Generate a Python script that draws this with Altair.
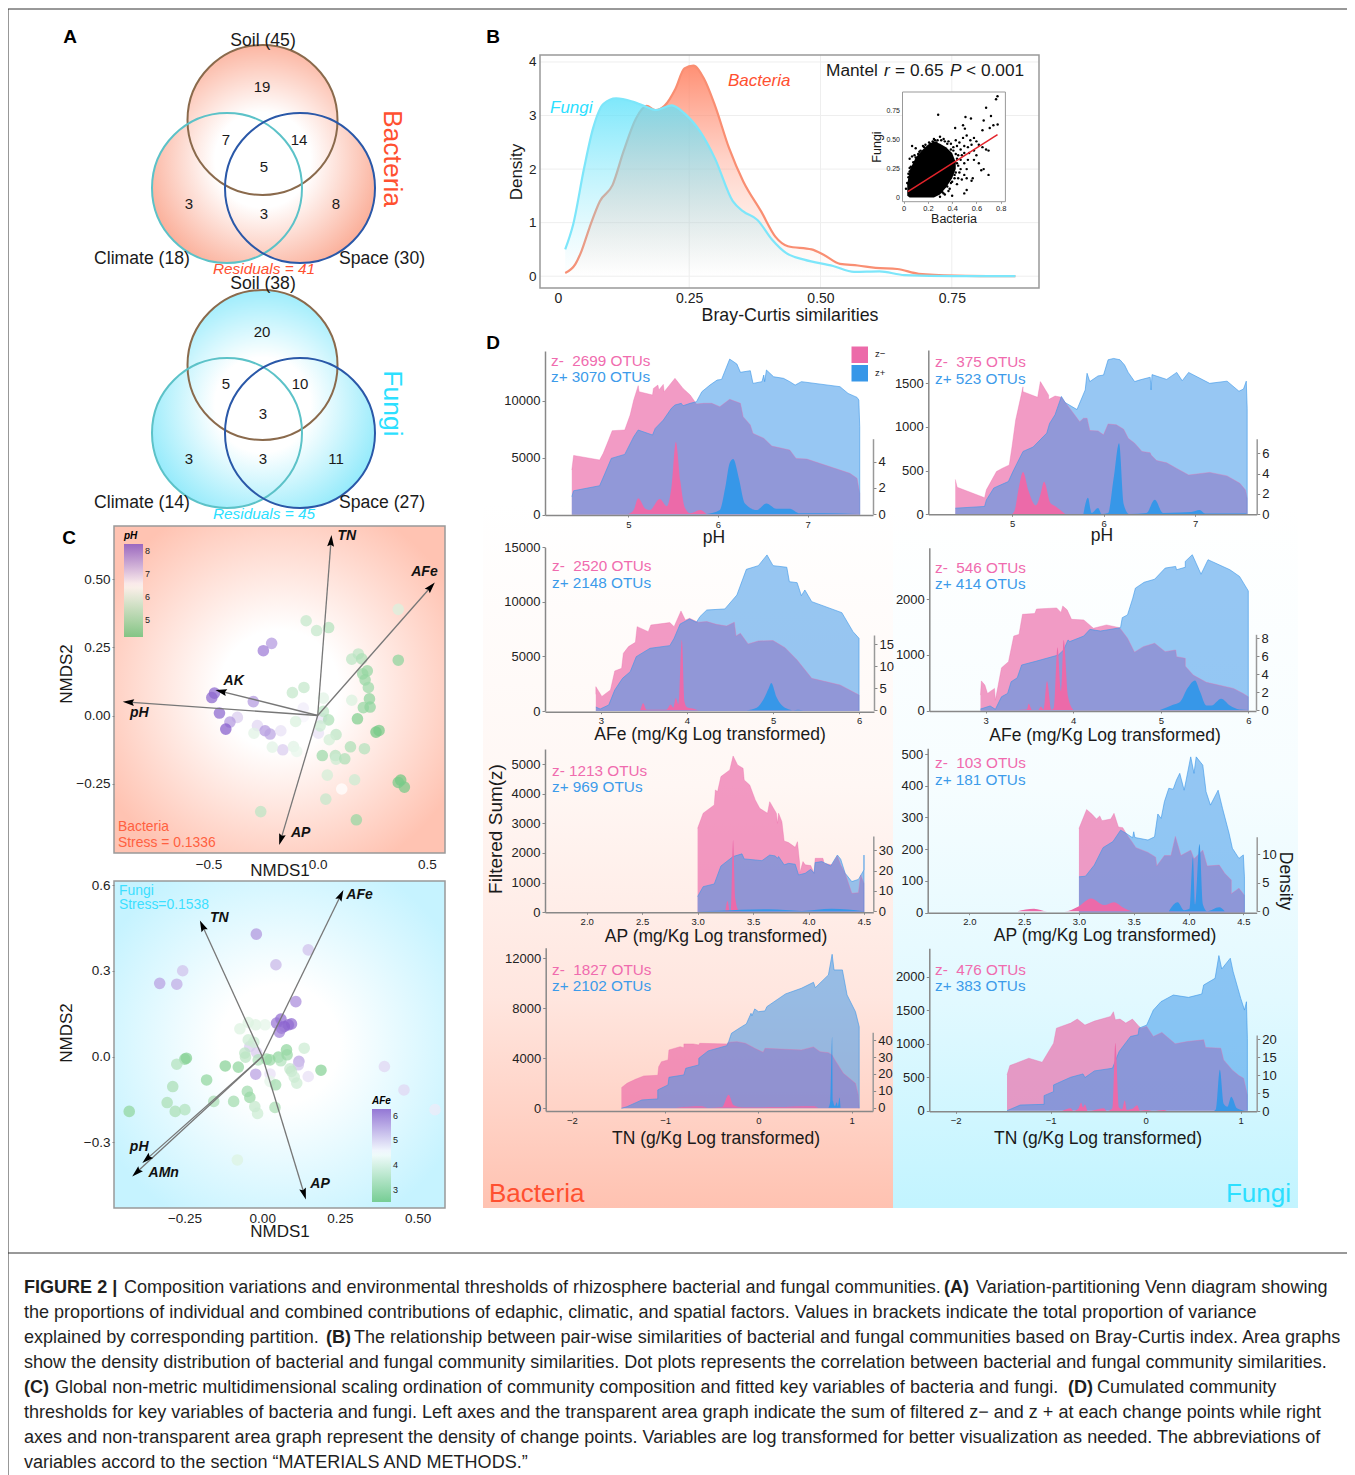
import math
import altair as alt
import pandas as pd

W, H = 1339, 1467
FONT = "Liberation Sans"
ONE = pd.DataFrame({"a": [0]})
PINK, BLUE = "#EC6AA9", "#3B96E8"
DPINK, DBLUE = "#EC6AA9", "#3797E8"
RED, CYAN = "#FF5030", "#2CDFFF"

# ---------- Panel B ----------
b_bacteria = [(.014,.06),(.033,.22),(.045,.47),(.06,.90),(.08,1.4),(.104,1.7),(.125,2.33),(.149,2.95),(.169,3.18),(.186,3.10),(.203,3.18),(.224,3.5),(.241,3.88),(.258,3.93),(.278,3.69),(.299,3.19),(.326,2.39),(.353,1.77),(.387,1.21),(.414,.74),(.438,.56),(.483,.50),(.506,.40),(.537,.23),(.571,.20),(.605,.155),(.646,.135),(.687,.045),(.755,.012),(.871,0)]
b_fungi = [(.014,.50),(.029,.96),(.05,2.02),(.067,2.76),(.087,3.22),(.111,3.32),(.142,3.26),(.169,3.16),(.186,3.10),(.217,3.19),(.241,3.04),(.271,2.70),(.299,2.2),(.333,1.40),(.353,1.21),(.38,1.05),(.408,.68),(.435,.43),(.469,.31),(.524,.19),(.564,.08),(.612,.09),(.66,.02),(.755,0),(.871,0)]
inset_core = [(.03,.02,.12),(.05,.005,.24),(.1,.005,.35),(.15,.005,.41),(.2,.005,.46),(.25,.005,.49),(.3,.03,.47),(.35,.09,.44),(.4,.17,.39),(.43,.25,.31)]
inset_points = [(.774,.88),(.762,.855),(.68,.78),(.72,.71),(.285,.72),(.51,.70),(.555,.687),(.66,.67),(.775,.635),(.74,.63),(.71,.606),(.65,.586),(.425,.606),(.49,.63),(.505,.6),
 (.03,.13),(.02,.08),(.04,.18),(.05,.23),(.06,.27),(.08,.31),(.07,.36),(.07,.45),(.1,.43),(.05,.34),(.12,.38),(.1,.35),(.14,.41),(.16,.45),(.18,.46),(.16,.39),(.19,.43),(.22,.47),(.24,.49),(.26,.5),(.28,.5),(.3,.53),(.33,.51),(.37,.49),(.39,.47),(.43,.5),(.46,.48),(.49,.52),(.52,.54),(.55,.5),(.58,.52),(.6,.49),(.62,.46),(.65,.44),(.68,.42),(.7,.41),(.56,.46),(.53,.44),(.5,.45),(.47,.42),(.44,.45),(.41,.41),(.45,.37),(.48,.37),(.5,.39),(.54,.39),(.58,.41),(.6,.37),(.47,.33),(.44,.3),(.5,.3),(.53,.33),(.58,.33),(.62,.3),(.64,.24),(.66,.25),(.7,.2),(.52,.25),(.5,.2),(.48,.16),(.52,.17),(.57,.17),(.56,.15),(.46,.22),(.42,.2),(.44,.12),(.4,.14),(.38,.08),(.36,.1),(.4,.02),(.5,.04),(.52,.07),(.45,.17),(.33,.04),(.3,.01),
 (.36,.47),(.34,.49),(.31,.5),(.41,.44),(.39,.42),(.43,.38),(.44,.34),(.45,.28),(.47,.25),(.43,.22),(.42,.17),(.39,.13),(.37,.06),(.34,.03),(.32,.05),(.05,.26),(.04,.21),(.09,.37),(.13,.4),(.17,.44),(.21,.48),(.25,.51),(.27,.48)]
inset_fit = [(.035,.055),(.774,.549)]
inset_y_ticks = [(0,"0"),(.25,"0.25"),(.5,"0.50"),(.75,"0.75")]

# ---------- Panel C ----------
c1_purple = [(-.211,.265,7.5),(-.249,.238,7.8),(-.473,.082,8),(-.485,.066,8),(-.295,.051,7.5),(-.450,.009,8),(-.368,-.007,7),(-.402,-.024,7.5),(-.421,-.050,8.1),(-.276,-.037,6.9),(-.241,-.056,7.5),(-.218,-.068,7.4),(-.169,-.056,6.8),(-.160,-.126,7),(.003,-.065,6.8),(.018,-.010,6.8),(-.066,.027,6.7),(-.066,-.004,6.6)]
c1_green = [(-.053,.348,5.7),(-.005,.312,5.7),(.050,.323,5.5),(.369,.390,6),(.369,.203,5),(.186,.226,5.6),(.156,.207,5.6),(.202,.208,5.4),(.227,.164,5.1),(.206,.153,5.1),(.217,.131,5.1),(.232,.103,5.2),(.237,.061,5),(.209,.029,5.1),(.240,.031,5),(.156,.056,6),(.182,-.012,4.8),(.267,-.061,4.6),(.281,-.055,4.7),(-.063,.103,5.7),(-.116,.084,5.7),(.026,.064,6.1),(.026,.015,5.6),(.050,-.016,5.4),(.011,-.038,5.8),(-.101,-.022,6),(.084,-.070,5.6),(.053,-.089,5.9),(-.292,-.065,6.1),(-.208,-.116,6.1),(-.111,-.114,6.1),(-.096,-.132,6.2),(.150,-.115,5.4),(.214,-.122,5.5),(.021,-.147,5.2),(.081,-.147,5.5),(.084,-.160,5.8),(.124,-.159,5.4),(.044,-.219,5.9),(.169,-.236,5.8),(.110,-.270,6.5),(.037,-.307,5.7),(-.261,-.353,5.6),(.177,-.383,5.1),(.380,-.237,4.6),(.369,-.246,4.7),(.397,-.263,4.7)]
c1_arrows = [("TN",.061,.642,.133,.659),("AFe",.519,.473,.489,.526),("AK",-.443,.089,-.385,.127),("pH",-.867,.049,-.817,.011),("AP",-.169,-.456,-.078,-.432)]
c2_purple = [(-.019,.428,5.5),(.148,.373,5.1),(.044,.321,5.2),(-.256,.300,5.1),(-.330,.256,5.4),(-.275,.253,5.3),(.108,.192,5.6),(.060,.131,5.9),(.046,.117,5.8),(.094,.114,5.9),(.084,.111,5.9),(.071,.105,6),(.062,.099,5.9),(.055,.085,5.7),(-.040,.035,5),(-.018,.014,5),(.118,-.017,5.4),(.116,-.029,5.1),(-.021,-.062,5.4),(.025,-.061,4.8),(.148,-.070,4.8),(.393,-.035,4.9),(.456,-.117,4.9),(.556,-.186,4.7)]
c2_green = [(-.045,.119,4.1),(-.072,.097,4.1),(-.021,.111,4.1),(.009,.111,4.2),(-.045,.058,3.9),(-.027,.050,3.9),(-.056,.012,3.7),(-.054,-.002,3.7),(-.013,-.012,3.6),(.014,-.009,3.3),(.025,-.012,3.3),(.052,-.002,3.2),(.060,-.015,3.6),(.078,.023,3.2),(.080,.006,3.3),(.135,.029,3.9),(.189,-.048,3.1),(.089,-.043,3.8),(.094,-.052,3.8),(.103,-.072,3.9),(.111,-.093,3.9),(.025,-.087,4.2),(.043,-.099,3.4),(-.119,-.033,3.1),(-.077,-.037,3.2),(-.179,-.082,3.2),(-.249,-.009,3.2),(-.244,-.006,3.1),(-.275,-.027,3.6),(-.288,-.105,3.5),(-.306,-.161,3.5),(-.280,-.192,3.5),(-.249,-.186,3.6),(-.428,-.192,3.2),(-.156,-.157,3.5),(-.092,-.157,3.4),(-.048,-.122,3.4),(-.040,-.143,3.3),(-.024,-.175,3.8),(-.015,-.199,3.9),(.041,-.178,3.5),(-.080,-.362,4.1)]
c2_arrows = [("TN",-.193,.458,-.138,.484),("AFe",.253,.565,.313,.565),("pH",-.372,-.359,-.396,-.317),("AMn",-.405,-.406,-.317,-.408),("AP",.135,-.481,.186,-.446)]

# ---------- Panel A ----------
venn_circles = [("Soil",49,64),("Climate",34.8,36.8),("Space",64,36.8)]
venn_b_text = [("19",48.8,77.2),("7",34.4,56),("14",63.6,56),("5",49.6,45.2),("3",19.6,30.4),("3",49.6,26.4),("8",78.4,30.4),("Soil (45)",49.2,95.6),("Climate (18)",.8,8.4),("Space (30)",96.8,8.4)]
venn_f_text = [("20",48.8,77.2),("5",34.4,56.4),("10",64,56.4),("3",49.2,44.4),("3",19.6,26.4),("3",49.2,26.4),("11",78.4,26.4),("Soil (38)",49.2,96.4),("Climate (14)",.8,8.8),("Space (27)",96.8,8.8)]

# ---------- Panel D ----------
ph_b_neg = [(4.37,3920),(4.39,5200),(4.68,4800),(4.72,5380),(4.78,6550),(4.82,7370),(4.96,7430),(5.02,8740),(5.06,10060),(5.11,11320),(5.12,10790),(5.27,10500),(5.28,11080),(5.33,11370),(5.34,10940),(5.39,11430),(5.40,10790),(5.52,11960),(5.61,11080),(5.69,10500),(5.76,9710),(5.84,9770),(5.93,9770),(6.02,9470),(6.13,10120),(6.25,9770),(6.28,8600),(6.36,7870),(6.39,7130),(6.51,6700),(6.60,6020),(6.80,5670),(6.87,4940),(6.99,4880),(7.47,3630),(7.55,3190),(7.58,1870),(7.58,0)]
ph_b_pos = [(4.37,1580),(4.39,2100),(4.68,2540),(4.74,3630),(4.81,4940),(4.96,5290),(5.06,6840),(5.11,7430),(5.27,6990),(5.30,7570),(5.39,8300),(5.48,9330),(5.52,9620),(5.59,9770),(5.61,9560),(5.69,9770),(5.76,9910),(5.82,10790),(5.91,11370),(5.99,11810),(6.04,11870),(6.13,13650),(6.21,13220),(6.25,12490),(6.36,12630),(6.39,11520),(6.49,11670),(6.51,12250),(6.52,11670),(6.54,12690),(6.62,12100),(6.73,11960),(6.80,11670),(6.86,11370),(6.93,11670),(7.36,11230),(7.45,10640),(7.55,10290),(7.57,10060),(7.58,7720),(7.58,0)]
ph_b_dneg = [(5.0,0),(5.06,.3),(5.11,1.2),(5.19,.4),(5.24,.3),(5.35,1.15),(5.43,.6),(5.48,2),(5.53,5.5),(5.58,2.5),(5.63,.5),(5.69,.05),(5.80,.3),(5.87,0)]
ph_b_dpos = [(5.87,0),(6.02,.3),(6.08,2),(6.13,3.9),(6.17,4.2),(6.23,2.8),(6.30,.8),(6.43,.3),(6.54,.8),(6.65,.4),(6.80,.4),(6.91,.05),(7.17,.05),(7.55,0)]

ph_f_neg = [(4.38,400),(4.40,310),(4.70,190),(4.72,280),(4.83,490),(4.89,525),(4.97,565),(5.00,775),(5.04,1080),(5.12,1460),(5.12,1405),(5.28,1340),(5.31,1520),(5.40,1365),(5.40,1315),(5.47,1355),(5.54,1340),(5.63,1215),(5.74,1060),(5.78,1100),(5.82,1100),(5.85,960),(5.94,955),(6.00,910),(6.05,1035),(6.14,1025),(6.22,975),(6.27,870),(6.34,815),(6.42,720),(6.51,705),(6.52,680),(6.58,615),(6.69,590),(6.80,525),(6.93,450),(7.16,480),(7.35,440),(7.49,355),(7.55,280),(7.57,185),(7.57,0)]
ph_f_pos = [(4.38,70),(4.70,90),(4.72,165),(4.80,300),(4.83,315),(4.96,375),(5.01,490),(5.12,720),(5.23,770),(5.38,930),(5.41,1040),(5.47,1140),(5.54,1350),(5.58,1280),(5.71,1200),(5.80,1425),(5.82,1615),(5.85,1520),(5.94,1585),(6.00,1595),(6.05,1770),(6.11,1785),(6.18,1770),(6.23,1710),(6.27,1625),(6.34,1520),(6.40,1540),(6.51,1570),(6.52,1425),(6.53,1600),(6.69,1545),(6.80,1625),(6.86,1530),(6.93,1625),(7.16,1500),(7.35,1525),(7.48,1410),(7.53,1435),(7.56,1525),(7.57,1215),(7.57,0)]
ph_f_dneg = [(5.0,0),(5.03,.4),(5.07,2.4),(5.12,4.15),(5.18,2.3),(5.26,.85),(5.31,1.9),(5.35,3.2),(5.42,1.1),(5.47,.8),(5.58,0)]
ph_f_dpos = [(5.78,0),(5.83,1.6),(5.87,.1),(5.94,.6),(5.98,0),(6.05,.1),(6.11,3.5),(6.17,7.0),(6.22,1),(6.28,0),(6.47,.1),(6.56,1.4),(6.65,.1),(6.84,.15),(6.96,.2),(7.05,.4),(7.11,.05),(7.56,.05)]

afe_b_neg = [(2.94,1530),(2.94,2230),(3.01,1340),(3.11,1925),(3.16,3670),(3.24,3910),(3.26,5285),(3.32,5900),(3.40,6290),(3.42,7730),(3.55,7270),(3.58,7880),(3.80,8100),(3.85,7730),(3.93,9165),(3.98,8340),(4.03,8490),(4.13,8130),(4.23,8190),(4.34,7940),(4.46,7790),(4.55,8130),(4.57,6870),(4.62,7120),(4.71,6140),(4.83,6415),(5.00,6450),(5.14,5800),(5.28,4675),(5.45,2990),(5.78,2380),(6.00,1465),(6.00,0)]
afe_b_pos = [(2.94,365),(2.99,180),(3.09,550),(3.16,1925),(3.25,2990),(3.34,3605),(3.41,4980),(3.57,5745),(3.80,5990),(3.85,6660),(3.92,7970),(4.03,8430),(4.11,8130),(4.15,8645),(4.23,9255),(4.44,9350),(4.58,10630),(4.69,12980),(4.83,13320),(4.93,14300),(5.00,13320),(5.16,13170),(5.19,11850),(5.28,11760),(5.33,10570),(5.37,11090),(5.45,10020),(5.80,9010),(5.93,7270),(6.00,6660),(6.00,0)]
afe_b_dneg = [(3.22,0),(3.45,0),(3.49,1.6),(3.53,.1),(3.76,.1),(3.81,1.3),(3.84,.6),(3.87,2.8),(3.90,1.4),(3.94,16),(3.97,2),(4.0,.7),(4.09,.3),(4.13,0)]
afe_b_dpos = [(4.69,0),(4.81,.6),(4.89,2.5),(4.95,5),(4.98,6.2),(5.04,3),(5.10,1.2),(5.16,.4),(5.24,0),(5.29,.15),(5.35,0)]

afe_f_neg = [(2.94,280),(2.95,535),(2.99,460),(3.02,310),(3.10,400),(3.11,190),(3.18,770),(3.26,880),(3.32,1340),(3.38,1370),(3.42,1730),(3.56,1745),(3.58,1825),(3.81,1845),(3.86,1765),(3.88,1880),(3.93,1810),(3.98,1640),(4.12,1630),(4.23,1480),(4.38,1540),(4.53,1490),(4.62,1300),(4.70,1050),(4.80,1150),(4.93,1210),(5.05,1060),(5.17,1090),(5.18,970),(5.28,940),(5.28,800),(5.37,640),(5.52,510),(5.83,400),(5.94,310),(6.00,250),(6.00,0)]
afe_f_pos = [(2.94,30),(3.05,85),(3.11,25),(3.18,250),(3.25,310),(3.29,520),(3.36,590),(3.41,820),(3.58,890),(3.83,1000),(3.89,1090),(3.94,1270),(3.96,1240),(4.12,1340),(4.19,1460),(4.31,1430),(4.54,1490),(4.56,1670),(4.62,1720),(4.68,2020),(4.71,2200),(4.81,2305),(4.93,2360),(5.05,2560),(5.17,2590),(5.18,2530),(5.28,2575),(5.28,2680),(5.36,2800),(5.46,2450),(5.54,2710),(5.79,2530),(5.90,2410),(6.00,2150),(6.00,0)]
afe_f_dneg = [(3.37,0),(3.47,.05),(3.49,.7),(3.53,0),(3.60,0),(3.63,.4),(3.66,.05),(3.70,3.2),(3.75,0),(3.78,.3),(3.82,7.0),(3.86,2.1),(3.89,7.8),(3.94,1.5),(4.0,0)]
afe_f_dpos = [(4.99,0),(5.14,.6),(5.22,.9),(5.31,2.5),(5.39,3.3),(5.45,2),(5.52,.5),(5.58,.5),(5.69,1.25),(5.79,.5),(5.90,.05),(6,0)]

ap_b_neg = [(3.0,2830),(3.05,3340),(3.15,3620),(3.16,4125),(3.18,4070),(3.21,4575),(3.29,4800),(3.32,5270),(3.36,4970),(3.41,4855),(3.42,4460),(3.47,4290),(3.52,3790),(3.56,3505),(3.63,3340),(3.65,3730),(3.71,3340),(3.72,3000),(3.73,3340),(3.76,3055),(3.78,2405),(3.82,2350),(3.88,2190),(3.90,2380),(3.92,1650),(3.92,1315),(3.95,1710),(3.97,1600),(4.02,1575),(4.05,1315),(4.06,1820),(4.13,1820),(4.14,1650),(4.21,1600),(4.26,1900),(4.29,1600),(4.33,1315),(4.39,640),(4.45,660),(4.47,1260),(4.50,980),(4.50,0)]
ap_b_pos = [(3.0,530),(3.05,865),(3.15,955),(3.21,1560),(3.32,1880),(3.40,1970),(3.42,1800),(3.52,1765),(3.58,1740),(3.65,1930),(3.70,1900),(3.72,1820),(3.73,1880),(3.78,1600),(3.82,1650),(3.88,1620),(3.91,1260),(3.97,1315),(4.02,1450),(4.05,1315),(4.06,1675),(4.12,1710),(4.20,1560),(4.26,1930),(4.29,1790),(4.33,1315),(4.39,1035),(4.45,1110),(4.50,1430),(4.50,1930),(4.50,0)]
ap_b_dneg = [(3.25,0),(3.27,5),(3.29,0),(3.30,0),(3.32,35),(3.34,6),(3.37,.5),(3.40,0)]
ap_b_dpos = [(3.0,0),(3.19,.3),(3.64,1),(3.94,.2),(4.21,1.2),(4.5,0)]

ap_f_neg = [(3.0,265),(3.07,325),(3.12,310),(3.16,295),(3.19,305),(3.21,290),(3.29,295),(3.32,313),(3.36,270),(3.40,268),(3.43,250),(3.52,205),(3.63,190),(3.70,175),(3.71,147),(3.78,180),(3.84,180),(3.88,240),(3.93,180),(4.02,197),(4.05,170),(4.13,197),(4.17,147),(4.28,150),(4.33,124),(4.39,103),(4.39,60),(4.46,77),(4.51,55),(4.51,0)]
ap_f_pos = [(3.0,113),(3.06,115),(3.14,150),(3.22,205),(3.31,224),(3.38,260),(3.43,250),(3.49,236),(3.50,255),(3.51,237),(3.63,229),(3.69,239),(3.72,311),(3.75,297),(3.78,350),(3.82,392),(3.86,389),(3.89,418),(3.92,439),(3.96,386),(4.02,491),(4.05,439),(4.07,491),(4.13,465),(4.16,381),(4.20,339),(4.27,386),(4.31,329),(4.37,250),(4.40,203),(4.46,171),(4.50,182),(4.51,113),(4.51,0)]
ap_f_dneg = [(2.44,0),(2.59,.45),(2.71,0),(2.87,0),(3.0,.9),(3.11,2.25),(3.23,1.1),(3.32,1.6),(3.41,.6),(3.50,0),(3.81,0),(3.87,.2)]
ap_f_dpos = [(3.82,0),(3.90,1.6),(3.96,.2),(4.01,.5),(4.04,9.5),(4.06,1.2),(4.10,11.8),(4.13,1.3),(4.17,0),(4.28,.7),(4.33,0)]

tn_b_neg = [(-1.47,1650),(-1.41,2000),(-1.32,2320),(-1.23,2590),(-1.08,2640),(-1.07,3330),(-1.04,3730),(-.97,3870),(-.96,4670),(-.84,4930),(-.80,4850),(-.80,5150),(-.70,5150),(-.64,5070),(-.63,5200),(-.34,5150),(-.32,5280),(-.23,5330),(-.14,5200),(-.07,4930),(-.04,4800),(.05,4480),(.07,4800),(.29,4720),(.46,4670),(.59,4910),(.66,4530),(.75,4450),(.79,4270),(.82,3870),(.91,2800),(1.04,2000),(1.07,1070),(1.08,0)]
tn_b_pos = [(-1.47,0),(-1.41,130),(-1.25,670),(-1.08,750),(-1.08,1470),(-.97,1870),(-.96,2480),(-.80,2670),(-.78,3200),(-.64,3470),(-.64,4000),(-.54,4590),(-.34,5010),(-.32,5330),(-.29,6000),(-.18,6530),(-.13,6750),(-.08,7600),(-.07,7390),(-.04,7950),(0,7730),(.07,7790),(.09,8130),(.29,9150),(.46,9600),(.59,10080),(.61,9650),(.75,10670),(.79,12320),(.81,11070),(.90,11070),(.95,9070),(1.04,7730),(1.08,6530),(1.08,5600),(1.08,0)]
tn_b_dneg = [(-.89,0),(-.61,.8),(-.54,0),(-.39,.3),(-.32,7.6),(-.27,1.5),(-.18,.2),(.18,.3),(.59,.8),(.64,0)]
tn_b_dpos = [(.75,0),(.77,4),(.79,42),(.80,4),(.82,1),(.84,3.2),(.85,.8),(.87,6),(.88,0)]

tn_f_neg = [(-1.46,535),(-1.43,675),(-1.23,785),(-1.09,725),(-.97,1010),(-.94,1235),(-.79,1310),(-.72,1370),(-.64,1280),(-.54,1340),(-.37,1410),(-.34,1480),(-.32,1360),(-.27,1370),(-.21,1310),(-.14,1370),(-.07,1260),(-.05,1235),(.01,1260),(.08,1110),(.17,1170),(.31,1000),(.44,1035),(.61,1060),(.63,945),(.79,935),(.82,760),(.91,610),(.98,525),(1.03,485),(1.07,235),(1.07,0)]
tn_f_pos = [(-1.46,0),(-1.32,85),(-1.07,95),(-1.07,225),(-.97,285),(-.97,385),(-.79,500),(-.66,550),(-.64,495),(-.54,595),(-.35,635),(-.28,885),(-.16,1110),(-.08,1135),(-.07,1235),(.01,1280),(.08,1505),(.16,1630),(.29,1730),(.45,1695),(.59,1745),(.61,1880),(.73,1980),(.77,2320),(.80,2120),(.89,2280),(.92,2080),(1.0,1680),(1.04,1505),(1.06,1630),(1.07,1080),(1.07,0)]
tn_f_dneg = [(-.88,0),(-.79,.8),(-.76,0),(-.71,.6),(-.68,2.3),(-.66,1),(-.64,1.8),(-.61,0),(-.44,.8),(-.41,0),(-.35,.8),(-.32,19),(-.28,1),(-.25,.5),(-.22,2.9),(-.20,.3),(-.14,.6),(-.09,1.6),(-.06,.1),(.01,.3),(.08,0),(.19,.3),(.22,0)]
tn_f_dpos = [(.72,0),(.74,.6),(.78,11.5),(.82,2),(.86,1.2),(.90,4),(.96,.8),(1.07,0)]

x5 = [5,6,7]; x3 = [3,4,5,6]; x2 = [2,2.5,3,3.5,4,4.5]; xm = [-2,-1,0,1]
PANELS = [
 dict(s=(ph_b_neg,ph_b_pos,ph_b_dneg,ph_b_dpos),xd=(4.071,7.728),xr=(545,873),yd=(0,14360),yr=(514.7,351),rd=(0,5.76),rr=(514,438.7),ax=515,xt=x5,yt=[0,5000,10000],rt=[0,2,4],xf=".0f"),
 dict(s=(ph_f_neg,ph_f_pos,ph_f_dneg,ph_f_dpos),xd=(4.085,7.674),xr=(928.3,1256.7),yd=(0,1882),yr=(514.3,350),rd=(0,7.45),rr=(514,438.7),ax=514.3,xt=x5,yt=[0,500,1000,1500],rt=[0,2,4,6],xf=".0f"),
 dict(s=(afe_b_neg,afe_b_pos,afe_b_dneg,afe_b_dpos),xd=(2.349,6.174),xr=(545,874),yd=(0,15000),yr=(711,547.3),rd=(0,17.1),rr=(710.3,635),ax=711.7,xt=x3,yt=[0,5000,10000,15000],rt=[0,5,10,15],xf=".0f"),
 dict(s=(afe_f_neg,afe_f_pos,afe_f_dneg,afe_f_dpos),xd=(2.355,6.088),xr=(929.3,1256),yd=(0,2926),yr=(710.7,547.7),rd=(0,8.45),rr=(710,634.3),ax=711,xt=x3,yt=[0,1000,2000],rt=[0,2,4,6,8],xf=".0f"),
 dict(s=(ap_b_neg,ap_b_pos,ap_b_dneg,ap_b_dpos),xd=(1.624,4.584),xr=(545,873.3),yd=(0,5506),yr=(912.3,749),rd=(0,37),rr=(911.3,836),ax=912.3,xt=x2,yt=[0,1000,2000,3000,4000,5000],rt=[0,10,20,30],xf=".1f"),
 dict(s=(ap_f_neg,ap_f_pos,ap_f_dneg,ap_f_dpos),xd=(1.62,4.622),xr=(927.7,1256.7),yd=(0,518),yr=(912.7,748.3),rd=(0,13.1),rr=(911.3,836.7),ax=912.7,xt=x2,yt=[0,100,200,300,400,500],rt=[0,5,10],xf=".1f"),
 dict(s=(tn_b_neg,tn_b_pos,tn_b_dneg,tn_b_dpos),xd=(-2.282,1.225),xr=(545.7,872.7),yd=(-216,12848),yr=(1111,947.7),rd=(-2,44.7),rr=(1111,1032.3),ax=1111,xt=xm,yt=[0,4000,8000,12000],rt=[0,10,20,30,40],xf=".0f"),
 dict(s=(tn_f_neg,tn_f_pos,tn_f_dneg,tn_f_dpos),xd=(-2.278,1.168),xr=(929.3,1256.7),yd=(-9,2429),yr=(1111.3,948.3),rd=(0,21.2),rr=(1111,1035),ax=1111.3,xt=xm,yt=[0,500,1000,1500,2000],rt=[0,5,10,15,20],xf=".0f"),
]
otu_labels = [("z-\u00a0 2699 OTUs","z+ 3070 OTUs",551,361,377),("z-\u00a0 375 OTUs","z+ 523 OTUs",935,362,379),("z-\u00a0 2520 OTUs","z+ 2148 OTUs",552,566,583),("z-\u00a0 546 OTUs","z+ 414 OTUs",935,568,584),("z- 1213 OTUs","z+ 969 OTUs",552,771,787),("z-\u00a0 103 OTUs","z+ 181 OTUs",935,763,780),("z-\u00a0 1827 OTUs","z+ 2102 OTUs",552,970,986),("z-\u00a0 476 OTUs","z+ 383 OTUs",935,970,986)]
d_titles = [("pH",714,538),("pH",1102,536),("AFe (mg/Kg Log transformed)",710,735),("AFe (mg/Kg Log transformed)",1105,736),("AP (mg/Kg Log transformed)",716,937),("AP (mg/Kg Log transformed)",1105,936),("TN (g/Kg Log transformed)",716,1139),("TN (g/Kg Log transformed)",1098,1139)]

caption = [
 (1288,[("FIGURE 2 |",24,1),("Composition variations and environmental thresholds of rhizosphere bacterial and fungal communities.",124,0),("(A)",944,1),("Variation-partitioning Venn diagram showing",976,0)]),
 (1313,[("the proportions of individual and combined contributions of edaphic, climatic, and spatial factors. Values in brackets indicate the total proportion of variance",24,0)]),
 (1338,[("explained by corresponding partition.",24,0),("(B)",326,1),("The relationship between pair-wise similarities of bacterial and fungal communities based on Bray-Curtis index. Area graphs",354,0)]),
 (1363,[("show the density distribution of bacterial and fungal community similarities. Dot plots represents the correlation between bacterial and fungal community similarities.",24,0)]),
 (1388,[("(C)",24,1),("Global non-metric multidimensional scaling ordination of community composition and fitted key variables of bacteria and fungi.",55,0),("(D)",1068,1),("Cumulated community",1097,0)]),
 (1413,[("thresholds for key variables of bacteria and fungi. Left axes and the transparent area graph indicate the sum of filtered z\u2212 and z + at each change points while right",24,0)]),
 (1438,[("axes and non-transparent area graph represent the density of change points. Variables are log transformed for better visualization as needed. The abbreviations of",24,0)]),
 (1463,[("variables accord to the section \u201cMATERIALS AND METHODS.\u201d",24,0)]),
]

# ---------- helpers ----------
def scale(dom, rng):
    return alt.Scale(domain=list(dom), range=[rng[0]-8, rng[1]-8], nice=False, zero=False)

def note(text, x, y, size=14, color="#1a1a1a", align="center", angle=None, style=None, weight=None):
    kw = dict(font=FONT, fontSize=size, color=color, align=align, baseline="middle")
    if angle is not None: kw["angle"] = angle
    if style: kw["fontStyle"] = style
    if weight: kw["fontWeight"] = weight
    return alt.Chart(pd.DataFrame({"t":[text]})).mark_text(**kw).encode(text="t:N", x=alt.value(x-8), y=alt.value(y-8))

def box(x0, x1, y0, y1, **mk):
    return alt.Chart(ONE).mark_rect(**mk).encode(x=alt.value(x0-8), x2=alt.value(x1-8), y=alt.value(y0-8), y2=alt.value(y1-8))

def hline(x0, x1, y, color="#333", w=1):
    return alt.Chart(ONE).mark_rule(color=color, strokeWidth=w).encode(x=alt.value(x0-8), x2=alt.value(x1-8), y=alt.value(y-8))

def vline(x, y0, y1, color="#333", w=1):
    return alt.Chart(ONE).mark_rule(color=color, strokeWidth=w).encode(x=alt.value(x-8), y=alt.value(y0-8), y2=alt.value(y1-8))

AX = dict(title=None, grid=False, labelFont=FONT, labelColor="#222", labelOverlap=False, labelBound=False, labelFlush=False, zindex=1)
def ax_left(px, vals, fmt="d", size=13, dom=True, **kw):
    d = dict(AX); d.update(labelFontSize=size, tickSize=3, tickColor="#888", domain=dom, domainColor="#888", domainWidth=1.5, labelPadding=2); d.update(kw)
    return alt.Axis(orient="left", offset=-(px-8), values=vals, format=fmt, **d)
def ax_right(px, vals, fmt="d", size=13, **kw):
    d = dict(AX); d.update(labelFontSize=size, tickSize=3, tickColor="#888", domainColor="#999", domainWidth=1.5, labelPadding=2); d.update(kw)
    return alt.Axis(orient="right", offset=(px-8)-W, values=vals, format=fmt, **d)
def ax_bottom(py, vals, fmt=".0f", size=9.5, dom=True, **kw):
    d = dict(AX); d.update(labelFontSize=size, tickSize=2, tickColor="#888", domain=dom, domainColor="#888", domainWidth=1.5, labelPadding=2); d.update(kw)
    return alt.Axis(orient="bottom", offset=(py-8)-H, values=vals, format=fmt, **d)

def frame(pts):
    df = pd.DataFrame(pts, columns=["x","y"]); df["i"] = range(len(df)); df["base"] = 0.0; return df

def area(pts, xs, ys, color=None, opacity=1, xaxis=None, yaxis=None, fill=None, interp="linear"):
    mk = dict(orient="vertical", opacity=opacity, interpolate=interp)
    if fill is not None: mk["fill"] = fill
    else: mk["color"] = color
    return alt.Chart(frame(pts)).mark_area(**mk).encode(
        x=alt.X("x:Q", scale=xs, axis=xaxis), y=alt.Y("y:Q", scale=ys, axis=yaxis), y2="base:Q")

def line(pts, xs, ys, color, w=1, opacity=.6, interp="linear"):
    return alt.Chart(frame(pts)).mark_line(color=color, strokeWidth=w, opacity=opacity, interpolate=interp).encode(
        x=alt.X("x:Q", scale=xs, axis=None), y=alt.Y("y:Q", scale=ys, axis=None), order=alt.Order("i:Q"))

def linear(stops):
    return {"gradient":"linear","x1":0,"y1":0,"x2":0,"y2":1,"stops":[{"offset":o,"color":c} for o,c in stops]}
def radial(cx, cy, r, color):
    return {"gradient":"radial","x1":cx,"y1":cy,"r1":0,"x2":cx,"y2":cy,"r2":r,
            "stops":[{"offset":0,"color":"#ffffff"},{"offset":.4,"color":"#ffffff"},{"offset":1,"color":color}]}

layers = []

# frame
layers += [hline(8,1355,9), hline(8,1355,1253), vline(8,9,1475)]

# letters
for t,x,y in [("A",70,37),("B",493,37),("C",69,538),("D",493,343)]:
    layers.append(note(t,x,y,size=19,color="#000",weight="bold"))

# ---------- Venn ----------
vx = (140,415)
def venn(yrange, edge, texts, res, rescolor, name, namecolor):
    out = []
    xs, ys = scale((0,110),vx), scale((0,100),yrange)
    grads = [(.5,.77),(.74,.31),(.25,.31)]
    for (n,cx,cy),(gx,gy) in zip(venn_circles,grads):
        out.append(alt.Chart(pd.DataFrame({"x":[cx],"y":[cy]})).mark_point(shape="circle",filled=True,size=22500,opacity=1,
            fill=radial(gx,gy,.8,edge),strokeWidth=0).encode(x=alt.X("x:Q",scale=xs,axis=None),y=alt.Y("y:Q",scale=ys,axis=None)))
    for (n,cx,cy),col in zip(venn_circles,["#8A6A4C","#5CC2C8","#2A58A8"]):
        out.append(alt.Chart(pd.DataFrame({"x":[cx],"y":[cy]})).mark_point(shape="circle",filled=False,size=22500,opacity=1,
            color=col,strokeWidth=2).encode(x=alt.X("x:Q",scale=xs,axis=None),y=alt.Y("y:Q",scale=ys,axis=None)))
    df = pd.DataFrame(texts,columns=["t","x","y"])
    small = df.iloc[:7]; big = df.iloc[7:]
    for d,sz in [(small,15),(big,17.6)]:
        out.append(alt.Chart(d).mark_text(font=FONT,fontSize=sz,color="#1a1a1a").encode(
            text="t:N",x=alt.X("x:Q",scale=xs,axis=None),y=alt.Y("y:Q",scale=ys,axis=None)))
    out.append(alt.Chart(pd.DataFrame({"t":[res],"x":[49.6],"y":[4.4]})).mark_text(font=FONT,fontSize=15.4,fontStyle="italic",color=rescolor).encode(
        text="t:N",x=alt.X("x:Q",scale=xs,axis=None),y=alt.Y("y:Q",scale=ys,axis=None)))
    out.append(alt.Chart(pd.DataFrame({"t":[name],"x":[100.6],"y":[48.6]})).mark_text(font=FONT,fontSize=26.5,angle=90,color=namecolor).encode(
        text="t:N",x=alt.X("x:Q",scale=xs,axis=None),y=alt.Y("y:Q",scale=ys,axis=None)))
    return out
layers += venn((280,30),"#FBB19C",venn_b_text,"Residuals = 41",RED,"Bacteria",RED)
layers += venn((525,275),"#97EBFB",venn_f_text,"Residuals = 45",CYAN,"Fungi",CYAN)

# ---------- Panel B ----------
bx, by = scale((-.034,.916),(540,1039)), scale((-.22,4.13),(288,55))
layers.append(box(540,1039,55,288,fill="#ffffff"))
for v in [.25,.5,.75]:
    layers.append(alt.Chart(pd.DataFrame({"x":[v]})).mark_rule(color="#EEEEEE",strokeWidth=1).encode(
        x=alt.X("x:Q",scale=bx,axis=None),y=alt.value(55-8),y2=alt.value(288-8)))
for v in [0,1,2,3,4]:
    layers.append(alt.Chart(pd.DataFrame({"y":[v]})).mark_rule(color="#EEEEEE",strokeWidth=1).encode(
        y=alt.Y("y:Q",scale=by,axis=None),x=alt.value(540-8),x2=alt.value(1039-8)))
layers.append(area(b_bacteria,bx,by,interp="monotone",fill=linear([(0,"rgba(255,135,105,.92)"),(.45,"rgba(255,150,125,.42)"),(1,"rgba(255,170,140,0)")]),
    xaxis=ax_bottom(288,[0,.25,.5,.75],size=14,dom=False,ticks=False,labelExpr="datum.value==0?'0':format(datum.value,'.2f')",labelPadding=3),
    yaxis=ax_left(540,[0,1,2,3,4],size=13.5,dom=False,ticks=False,labelPadding=4)))
layers.append(line(b_bacteria,bx,by,"#F98E72",w=2.2,opacity=1,interp="monotone"))
layers.append(area(b_fungi,bx,by,interp="monotone",fill=linear([(0,"rgba(95,226,250,.8)"),(1,"rgba(150,235,250,0)")])))
layers.append(line(b_fungi,bx,by,"#7DE6FA",w=2.2,opacity=1,interp="monotone"))
layers.append(box(540,1039,55,288,fillOpacity=0,stroke="#999",strokeWidth=1.5))
layers += [note("Density",517,172,size=17,angle=270), note("Bray-Curtis similarities",790,316,size=17.8),
           note("Fungi",550,108,size=17,color=CYAN,align="left",style="italic"),
           note("Bacteria",728,81,size=17,color=RED,align="left",style="italic"),
           note("Mantel",826,71,size=17.3,align="left"), note("r",884,71,size=17.3,align="left",style="italic"),
           note("= 0.65",895,71,size=17.3,align="left"), note("P",950,71,size=17.3,align="left",style="italic"),
           note("< 0.001",966,71,size=17.3,align="left")]
# inset
ix, iy = scale((-.009,.839),(902.5,1005.4)), scale((-.032,.917),(201.7,92))
layers.append(box(902.5,1005.4,92,201.7,fill="#ffffff"))
layers.append(alt.Chart(pd.DataFrame(inset_core,columns=["x","y","y2"])).mark_area(color="#000",orient="vertical").encode(
    x=alt.X("x:Q",scale=ix,axis=ax_bottom(201.7,[0,.2,.4,.6,.8],fmt="~g",size=7.5,dom=False,tickSize=1.5,labelPadding=1)),
    y=alt.Y("y:Q",scale=iy,axis=None),
    y2="y2:Q"))
layers.append(alt.Chart(pd.DataFrame(inset_points,columns=["x","y"])).mark_circle(color="#000",size=6,opacity=1).encode(
    x=alt.X("x:Q",scale=ix,axis=None),y=alt.Y("y:Q",scale=iy,axis=None)))
layers.append(line(inset_fit,ix,iy,"#E3242B",w=1.5,opacity=1))
layers.append(box(902.5,1005.4,92,201.7,fillOpacity=0,stroke="#999",strokeWidth=1))
layers.append(alt.Chart(pd.DataFrame(inset_y_ticks,columns=["y","l"])).mark_text(font=FONT,fontSize=7,align="right",baseline="middle",color="#222").encode(
    y=alt.Y("y:Q",scale=iy,axis=None),x=alt.value(900-8),text="l:N"))
layers += [note("Bacteria",954,219,size=12.5), note("Fungi",877,147,size=12.5,angle=270)]

# ---------- Panel C ----------
HEAD = "M0,-1 L0.6,1 L0,0.7 L-0.6,1 Z"
def ordination(xd,yd,xr,yr,edge,pts,arrows,legend_title,cdom,lvals,lx,ly,xticks,yticks,xfmt,yfmt,labely):
    out=[]
    xs,ys = scale(xd,xr), scale(yd,yr)
    out.append(box(xr[0],xr[1],yr[1],yr[0],stroke="#999",strokeWidth=1.5,
        fill={"gradient":"radial","x1":.5,"y1":.5,"r1":0,"x2":.5,"y2":.5,"r2":.6,
              "stops":[{"offset":0,"color":"#fff"},{"offset":.3,"color":"#fff"},{"offset":1,"color":edge}]}))
    df = pd.DataFrame(pts,columns=["x","y","v"])
    out.append(alt.Chart(df).mark_circle(size=135,opacity=.72).encode(
        x=alt.X("x:Q",scale=xs,axis=ax_bottom(yr[0],xticks,fmt=xfmt,size=13.5,dom=False,tickSize=0,labelPadding=labely)),
        y=alt.Y("y:Q",scale=ys,axis=ax_left(xr[0],yticks,fmt=yfmt,size=13.5,dom=False,tickSize=2)),
        color=alt.Color("v:Q",scale=alt.Scale(domain=list(cdom),range=["#55BE6A","#FFFFFF","#7445C5"],interpolate="rgb"),
            legend=alt.Legend(title=legend_title,orient="none",legendX=lx-8,legendY=ly-8,values=lvals,direction="vertical",
                gradientLength=93,gradientThickness=19,titleFontSize=10,titleFont=FONT,titleFontStyle="italic",titleFontWeight="bold",
                labelFontSize=9,labelFont=FONT,labelColor="#222",titlePadding=3,format="d",gradientStrokeWidth=0,tickCount=4))))
    ax = pd.DataFrame(arrows,columns=["t","x","y","lx","ly"])
    ax["x0"]=0.0; ax["y0"]=0.0
    sx=(xr[1]-xr[0])/(xd[1]-xd[0]); sy=(yr[0]-yr[1])/(yd[1]-yd[0])
    ax["ang"]=[(math.degrees(math.atan2(a*sx,b*sy)))%360 for a,b in zip(ax["x"],ax["y"])]
    out.append(alt.Chart(ax).mark_rule(color="#777",strokeWidth=1.3).encode(
        x=alt.X("x0:Q",scale=xs,axis=None),y=alt.Y("y0:Q",scale=ys,axis=None),x2="x:Q",y2="y:Q"))
    out.append(alt.Chart(ax).mark_point(shape=HEAD,filled=True,size=130,color="#000",opacity=1).encode(
        x=alt.X("x:Q",scale=xs,axis=None),y=alt.Y("y:Q",scale=ys,axis=None),angle=alt.Angle("ang:Q",scale=None)))
    out.append(alt.Chart(ax).mark_text(font=FONT,fontSize=14,fontStyle="italic",fontWeight="bold",color="#111").encode(
        x=alt.X("lx:Q",scale=xs,axis=None),y=alt.Y("ly:Q",scale=ys,axis=None),text="t:N"))
    return out
layers += ordination((-.933,.583),(-.505,.696),(114,445),(853,526),"#FFC3B2",c1_purple+c1_green,c1_arrows,"pH",(4.25,6.5,8.32),[5,6,7,8],124,531,[-.5,0,.5],[-.25,0,.25,.5],".1f",".2f",4)
layers += ordination((-.477,.588),(-.530,.614),(114,445),(1208,881),"#C6F3FF",c2_purple+c2_green,c2_arrows,"AFe",(2.51,4.5,6.27),[3,4,5,6],372,1096,[-.25,0,.25,.5],[-.3,0,.3,.6],".2f",".1f",3)
layers += [note("Bacteria",118,827,size=13.9,color="#FF6040",align="left"),note("Stress = 0.1336",118,843,size=13.9,color="#FF6040",align="left"),
           note("Fungi",119,891,size=13.9,color="#3CDFFF",align="left"),note("Stress=0.1538",119,905,size=13.9,color="#3CDFFF",align="left"),
           note("NMDS1",280,871,size=17),note("NMDS2",67,674,size=17,angle=270),note("NMDS1",280,1232,size=17),note("NMDS2",67,1033,size=17,angle=270)]

# ---------- Panel D ----------
layers.append(box(483,893,505,1208,fill=linear([(0,"#ffffff"),(.4,"#FFF7F4"),(.7,"#FFE6DF"),(1,"#FFC2B1")])))
layers.append(box(893,1298,505,1208,fill=linear([(0,"#ffffff"),(.4,"#F6FDFF"),(.7,"#E2F9FF"),(1,"#C2F4FF")])))
for p in PANELS:
    xs,ys,rs = scale(p["xd"],p["xr"]),scale(p["yd"],p["yr"]),scale(p["rd"],p["rr"])
    neg,pos,dn,dp = p["s"]
    layers.append(area(neg,xs,ys,PINK,.67,xaxis=ax_bottom(p["ax"],p["xt"],fmt=p["xf"]),yaxis=ax_left(p["xr"][0],p["yt"])))
    layers.append(area(pos,xs,ys,BLUE,.53))
    layers.append(line(neg,xs,ys,PINK,opacity=.35))
    layers.append(line(pos,xs,ys,BLUE,opacity=.6))
    layers.append(area(dn,xs,rs,DPINK,1,yaxis=ax_right(p["xr"][1],p["rt"]),interp="monotone"))
    layers.append(area(dp,xs,rs,DBLUE,1,interp="monotone"))
for a,b,x,y1,y2 in otu_labels:
    layers.append(note(a,x,y1,size=15.3,color="#F06BAE",align="left"))
    layers.append(note(b,x,y2,size=15.3,color="#3C9BEA",align="left"))
for t,x,y in d_titles:
    layers.append(note(t,x,y,size=17.5))
layers += [box(851.5,868,346.5,363,fill=DPINK), box(851.5,868,365,381.5,fill=DBLUE),
           note("z\u2212",875,354,size=9.5,align="left"), note("z+",875,373,size=9.5,align="left"),
           note("Filtered Sum(z)",496,829,size=19,angle=270), note("Density",1285,881,size=17.5,angle=90),
           note("Bacteria",489,1194,size=26,color=RED,align="left"), note("Fungi",1291,1194,size=26,color=CYAN,align="right")]

# ---------- caption ----------
for y,segs in caption:
    for t,x,b in segs:
        layers.append(note(t,x,y,size=18.05,color="#1f1f1f",align="left",weight="bold" if b else None))

chart = alt.layer(*layers).resolve_scale(x="independent",y="independent",color="independent").properties(
    width=W,height=H,padding=0,autosize=alt.AutoSizeParams(type="none"),background="#ffffff"
).configure_view(stroke=None)
chart.save("out.html", embed_options={"renderer":"svg","actions":False})
